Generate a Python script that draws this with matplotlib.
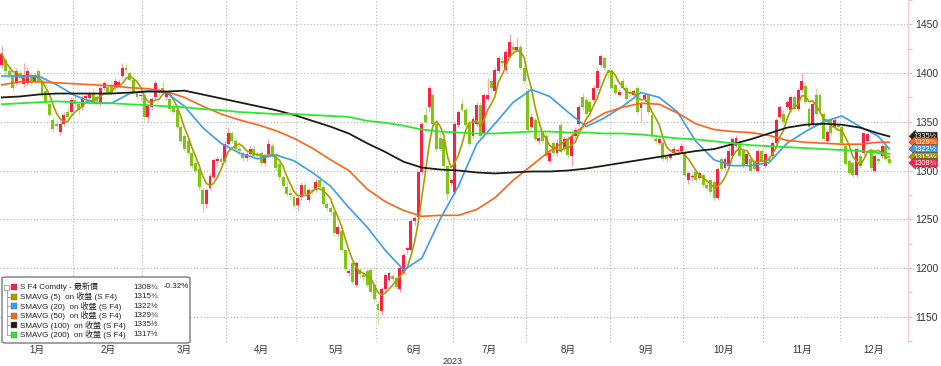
import matplotlib
matplotlib.use("Agg")
import matplotlib.pyplot as plt
import numpy as np
import pandas as pd
from matplotlib.patches import FancyBboxPatch, Rectangle

plt.rcParams['font.family'] = ['Liberation Sans', 'Noto Sans CJK TC', 'DejaVu Sans']

# CBOT trading holidays in 2023 (used to build the trading-day axis)
holidays = ['2023-01-02', '2023-01-16', '2023-02-20', '2023-04-07', '2023-05-29',
            '2023-06-19', '2023-07-04', '2023-09-04', '2023-11-23']

# daily OHLC for S F4 (month per line)
opens = [
    1408, 1413, 1402, 1398, 1390, 1400, 1389, 1390, 1398, 1392, 1402, 1392, 1382, 1368, 1352, 1348, 1340, 1348, 1360, 1360,
    1372, 1368, 1365, 1374, 1374, 1380, 1375, 1370, 1385, 1386, 1388, 1385, 1388, 1397, 1405, 1400, 1393, 1380, 1376,
    1378, 1355, 1365, 1375, 1382, 1385, 1375, 1373, 1365, 1362, 1345, 1335, 1330, 1318, 1308, 1302, 1280, 1266, 1282, 1293, 1310, 1312, 1310,
    1327, 1338, 1330, 1322, 1317, 1313, 1317, 1322, 1317, 1318, 1308, 1317, 1325, 1315, 1307, 1293, 1283, 1277, 1273,
    1265, 1273, 1285, 1270, 1280, 1280, 1290, 1283, 1266, 1262, 1257, 1235, 1238, 1218, 1195, 1205, 1183, 1198, 1193, 1197, 1198, 1182,
    1163, 1156, 1178, 1188, 1192, 1190, 1178, 1195, 1218, 1218, 1248, 1252, 1298, 1357, 1365, 1378, 1348, 1333, 1332, 1305, 1287,
    1278, 1347, 1368, 1362, 1348, 1335, 1348, 1367, 1338, 1373, 1392, 1382, 1402, 1412, 1403, 1417, 1427, 1424, 1427, 1405,
    1382, 1345, 1352, 1330, 1340, 1335, 1310, 1328, 1318, 1347, 1322, 1332, 1315, 1335, 1348, 1375, 1372, 1370, 1372, 1385, 1408, 1415, 1402,
    1402, 1388, 1378, 1392, 1385, 1380, 1378, 1385, 1364, 1372, 1377, 1357, 1332, 1328, 1328, 1314, 1313, 1318, 1320, 1320,
    1318, 1290, 1293, 1298, 1292, 1295, 1285, 1290, 1288, 1272, 1312, 1303, 1305, 1315, 1325, 1327, 1320, 1307, 1312, 1310, 1300, 1320,
    1305, 1312, 1315, 1328, 1355, 1358, 1365, 1362, 1375, 1363, 1383, 1387, 1363, 1347, 1378, 1378, 1358, 1330, 1352, 1345, 1346,
    1345, 1325, 1310, 1308, 1295, 1315, 1318, 1330, 1320, 1300, 1312, 1315, 1325, 1312,
]
highs = [
    1428, 1416, 1406, 1400, 1405, 1403, 1410, 1406, 1400, 1400, 1404, 1394, 1384, 1370, 1355, 1352, 1352, 1360, 1365, 1375,
    1377, 1370, 1377, 1380, 1382, 1385, 1378, 1387, 1392, 1388, 1390, 1395, 1394, 1410, 1410, 1402, 1395, 1382, 1380,
    1380, 1368, 1375, 1393, 1385, 1392, 1382, 1376, 1368, 1364, 1347, 1337, 1333, 1320, 1312, 1304, 1283, 1282, 1297, 1313, 1315, 1316, 1330,
    1345, 1341, 1333, 1326, 1320, 1320, 1325, 1325, 1320, 1320, 1317, 1332, 1328, 1318, 1310, 1295, 1290, 1282, 1276,
    1275, 1288, 1288, 1282, 1284, 1292, 1295, 1285, 1268, 1264, 1259, 1245, 1240, 1220, 1200, 1207, 1207, 1200, 1196, 1199, 1200, 1184,
    1166, 1180, 1195, 1197, 1194, 1192, 1202, 1215, 1222, 1250, 1253, 1300, 1350, 1365, 1387, 1380, 1350, 1338, 1334, 1307, 1292,
    1350, 1362, 1373, 1365, 1350, 1356, 1370, 1370, 1380, 1395, 1395, 1406, 1418, 1416, 1425, 1440, 1432, 1436, 1430, 1408,
    1385, 1358, 1355, 1340, 1343, 1338, 1322, 1330, 1332, 1350, 1335, 1335, 1338, 1345, 1368, 1380, 1375, 1373, 1388, 1405, 1420, 1418, 1405,
    1404, 1390, 1383, 1395, 1388, 1383, 1384, 1387, 1370, 1380, 1379, 1359, 1335, 1335, 1330, 1317, 1319, 1325, 1323, 1328,
    1320, 1299, 1297, 1300, 1299, 1297, 1288, 1292, 1290, 1304, 1314, 1314, 1324, 1334, 1336, 1329, 1322, 1319, 1314, 1312, 1322, 1322,
    1319, 1315, 1330, 1354, 1367, 1362, 1372, 1377, 1377, 1385, 1400, 1390, 1365, 1370, 1385, 1380, 1360, 1342, 1354, 1354, 1348,
    1347, 1327, 1312, 1310, 1324, 1318, 1340, 1339, 1322, 1317, 1314, 1327, 1327, 1314,
]
lows = [
    1405, 1398, 1395, 1383, 1388, 1392, 1386, 1388, 1387, 1390, 1390, 1375, 1368, 1355, 1340, 1342, 1336, 1346, 1352, 1358,
    1365, 1358, 1362, 1370, 1372, 1368, 1368, 1366, 1383, 1377, 1378, 1383, 1386, 1395, 1400, 1392, 1379, 1373, 1372,
    1352, 1350, 1362, 1373, 1377, 1378, 1372, 1360, 1358, 1343, 1328, 1320, 1316, 1303, 1298, 1280, 1257, 1262, 1280, 1290, 1305, 1306, 1308,
    1325, 1328, 1320, 1316, 1310, 1310, 1315, 1312, 1312, 1305, 1305, 1315, 1313, 1300, 1290, 1282, 1274, 1272, 1262,
    1258, 1270, 1274, 1268, 1276, 1278, 1281, 1264, 1258, 1254, 1234, 1232, 1216, 1197, 1192, 1184, 1180, 1190, 1188, 1180, 1172, 1165,
    1142, 1152, 1175, 1186, 1186, 1178, 1175, 1193, 1214, 1216, 1244, 1250, 1296, 1348, 1360, 1345, 1320, 1320, 1303, 1270, 1284,
    1276, 1345, 1360, 1345, 1325, 1333, 1346, 1333, 1336, 1371, 1383, 1380, 1400, 1406, 1400, 1415, 1420, 1422, 1403, 1390,
    1340, 1343, 1330, 1327, 1328, 1313, 1308, 1316, 1315, 1318, 1320, 1313, 1305, 1333, 1346, 1362, 1355, 1357, 1370, 1383, 1406, 1403, 1395,
    1383, 1378, 1376, 1383, 1371, 1376, 1376, 1358, 1350, 1370, 1358, 1333, 1327, 1326, 1310, 1309, 1311, 1316, 1317, 1318,
    1293, 1286, 1289, 1288, 1290, 1283, 1280, 1276, 1270, 1270, 1300, 1301, 1303, 1313, 1323, 1313, 1303, 1305, 1298, 1298, 1298, 1308,
    1303, 1308, 1313, 1326, 1353, 1348, 1363, 1360, 1361, 1361, 1381, 1368, 1343, 1345, 1356, 1358, 1330, 1328, 1336, 1343, 1343,
    1326, 1305, 1295, 1293, 1293, 1303, 1316, 1328, 1301, 1298, 1308, 1313, 1310, 1306,
]
closes = [
    1420, 1402, 1398, 1385, 1402, 1395, 1398, 1402, 1390, 1397, 1392, 1377, 1370, 1357, 1343, 1346, 1348, 1357, 1355, 1372,
    1368, 1362, 1373, 1376, 1379, 1370, 1371, 1385, 1390, 1379, 1380, 1392, 1391, 1405, 1403, 1393, 1380, 1375, 1378,
    1355, 1366, 1373, 1390, 1380, 1380, 1380, 1363, 1360, 1345, 1330, 1322, 1318, 1305, 1300, 1283, 1266, 1280, 1294, 1311, 1312, 1309, 1327,
    1338, 1330, 1322, 1320, 1313, 1317, 1322, 1315, 1315, 1308, 1315, 1327, 1315, 1303, 1293, 1284, 1276, 1275, 1264,
    1272, 1285, 1276, 1280, 1279, 1288, 1283, 1266, 1262, 1257, 1236, 1242, 1218, 1199, 1197, 1186, 1205, 1194, 1191, 1183, 1175, 1168,
    1157, 1178, 1193, 1195, 1189, 1180, 1200, 1213, 1220, 1248, 1251, 1298, 1348, 1350, 1385, 1348, 1322, 1322, 1305, 1276, 1290,
    1348, 1360, 1362, 1347, 1327, 1353, 1367, 1335, 1377, 1378, 1385, 1403, 1415, 1410, 1422, 1432, 1424, 1427, 1405, 1392,
    1342, 1355, 1332, 1333, 1330, 1315, 1318, 1318, 1328, 1320, 1332, 1316, 1335, 1342, 1365, 1365, 1358, 1360, 1385, 1402, 1418, 1405, 1400,
    1385, 1380, 1381, 1385, 1373, 1379, 1382, 1360, 1368, 1377, 1360, 1335, 1330, 1332, 1312, 1312, 1317, 1322, 1320, 1325,
    1295, 1297, 1293, 1290, 1297, 1285, 1282, 1278, 1272, 1302, 1302, 1312, 1320, 1332, 1333, 1315, 1305, 1317, 1300, 1302, 1320, 1310,
    1317, 1310, 1328, 1352, 1365, 1350, 1370, 1375, 1363, 1383, 1392, 1370, 1345, 1368, 1358, 1360, 1332, 1340, 1338, 1352, 1345,
    1328, 1307, 1297, 1295, 1322, 1305, 1338, 1337, 1303, 1315, 1310, 1325, 1312, 1308,
]

# moving averages every 5 trading days (last point = last day)
ma_days = list(range(0, 244, 5)) + [243]
ma20 = [1397, 1397, 1397, 1388, 1377, 1370, 1369, 1379, 1382, 1380, 1366, 1344, 1328, 1318, 1312, 1316, 1310,
        1298, 1284, 1262, 1242, 1218, 1198, 1210, 1250, 1284, 1327, 1348, 1370, 1383, 1376, 1360, 1345,
        1354, 1366, 1380, 1375, 1360, 1330, 1311, 1305, 1305, 1308, 1328, 1340, 1350, 1356, 1345, 1335, 1322]
ma50 = [1388, 1391, 1391, 1390, 1389, 1388, 1387, 1385, 1384, 1381, 1375, 1366, 1358, 1352, 1347, 1341, 1333,
        1323, 1311, 1300, 1281, 1268, 1259, 1253, 1254, 1254, 1260, 1272, 1290, 1305, 1320, 1332, 1348,
        1359, 1365, 1369, 1368, 1359, 1348, 1342, 1340, 1339, 1336, 1331, 1329, 1328, 1327, 1327, 1329, 1329]
ma100 = [1375, 1376, 1378, 1379, 1379, 1379, 1379, 1380, 1381, 1381, 1382, 1378, 1374, 1370, 1366, 1362, 1357,
         1351, 1345, 1338, 1328, 1319, 1309, 1303, 1301, 1300, 1298, 1297, 1298, 1299, 1299, 1300, 1302,
         1305, 1308, 1311, 1314, 1317, 1320, 1322, 1327, 1332, 1338, 1344, 1347, 1348, 1347, 1344, 1338, 1335]
ma200 = [1368, 1369, 1370, 1371, 1370, 1369, 1369, 1368, 1367, 1366, 1365, 1363, 1362, 1360, 1359, 1358, 1358,
         1357, 1356, 1355, 1351, 1349, 1346, 1342, 1340, 1339, 1338, 1338, 1339, 1340, 1340, 1339, 1339,
         1338, 1338, 1337, 1335, 1333, 1332, 1330, 1328, 1326, 1325, 1324, 1323, 1322, 1321, 1320, 1318, 1317]

legend_labels = ['S F4 Comdty - 最新價', 'SMAVG (5)  on 收盤 (S F4)', 'SMAVG (20)  on 收盤 (S F4)',
                 'SMAVG (50)  on 收盤 (S F4)', 'SMAVG (100)  on 收盤 (S F4)', 'SMAVG (200)  on 收盤 (S F4)']
legend_values = ['1308¾', '1315¾', '1322½', '1329¾', '1335½', '1317½']
last_change = '-0.32%'

UP, DOWN = '#fa2046', '#80c414'
UP_W, DOWN_W = '#f7a3b0', '#c4e391'
C_MA5, C_MA20, C_MA50, C_MA100, C_MA200 = '#a89e00', '#3b9cf5', '#ff6415', '#1c1c12', '#2bea2b'
line_colors = [UP, C_MA5, C_MA20, C_MA50, C_MA100, C_MA200]

o = np.array(opens, float); h = np.array(highs, float)
l = np.array(lows, float); c = np.array(closes, float)
n = len(c)
idx = np.arange(n)
dates = pd.bdate_range('2023-01-03', periods=n, freq='C', holidays=holidays)
ma5 = pd.Series(c).rolling(5, min_periods=1).mean()

fig = plt.figure(figsize=(9.41, 3.66), dpi=100)
ax = fig.add_axes([0, 1 - 342 / 366, 908 / 941, 342 / 366])
x_max = 248.1
ax.set_xlim(-0.5, x_max)
ax.set_ylim(1124, 1464)

# grid
grid_kw = dict(color='#b4b4b4', lw=0.8, linestyle=(0, (1, 2)), zorder=0)
for yv in range(1150, 1451, 50):
    ax.axhline(yv, **grid_kw)
months = dates.month.values
starts = [int(np.argmax(months == m)) for m in range(1, 13)]
for s in starts[1:]:
    ax.axvline(s - 0.5, **grid_kw)

# candles
up = c >= o
ax.vlines(idx, l, h, colors=np.where(up, UP_W, DOWN_W), lw=0.9, zorder=2)
body = np.maximum(np.abs(c - o), 1.5)
ax.bar(idx, body, bottom=np.minimum(o, c), width=0.8, color=np.where(up, UP, DOWN), zorder=3)

# moving averages
ax.plot(idx, ma5, color=C_MA5, lw=1.2, zorder=4)
ax.plot(ma_days, ma20, color=C_MA20, lw=1.2, zorder=4)
ax.plot(ma_days, ma50, color=C_MA50, lw=1.2, zorder=4)
ax.plot(ma_days, ma100, color=C_MA100, lw=1.3, zorder=4)
ax.plot(ma_days, ma200, color=C_MA200, lw=1.3, zorder=4)

# axes styling
for side in ['top', 'left', 'bottom']:
    ax.spines[side].set_visible(False)
ax.spines['right'].set_color('#f6c8c8')
ax.yaxis.tick_right()
ax.set_yticks(range(1150, 1451, 50))
ax.set_yticks(range(1125, 1476, 25), minor=True)
ax.tick_params(axis='y', which='both', direction='out', length=3, color='#f0b8b8',
               labelsize=7.5, labelcolor='#333333', pad=2)
ax.set_xticks([])

# month labels
bounds = [s - 0.5 for s in starts] + [x_max]
for m in range(12):
    ax.text((bounds[m] + bounds[m + 1]) / 2, -0.024, f'{m + 1}月', transform=ax.get_xaxis_transform(),
            ha='center', va='center', fontsize=7, color='#333333')
ax.text(starts[6] - 0.5, -0.056, '2023', transform=ax.get_xaxis_transform(),
        ha='center', va='center', fontsize=6.5, color='#333333')

# last value tags on the right axis (they overlap each other in the original too)
tag_vals = [ma100[-1], ma50[-1], ma20[-1], round(ma5.iloc[-1]), closes[-1]]
tag_cols = [C_MA100, C_MA50, C_MA20, C_MA5, UP]
tag_txt = [legend_values[4], legend_values[3], legend_values[2], legend_values[1], legend_values[0]]
for v, col, t in zip(tag_vals, tag_cols, tag_txt):
    ax.annotate(t, xy=(1, v), xycoords=ax.get_yaxis_transform(), xytext=(4, 0),
                textcoords='offset points', fontsize=5.4, color='white', va='center', ha='left',
                bbox=dict(boxstyle='larrow,pad=0.1', fc=col, ec='#444444', lw=0.4),
                annotation_clip=False, zorder=6)

# legend box (figure pixel coordinates)
W, H = 941, 366
def fx(px):
    return px / W
def fy(py):
    return 1 - py / H

box = FancyBboxPatch((fx(2), fy(343)), fx(188), 66 / H, boxstyle='round,pad=0,rounding_size=0.004',
                     transform=fig.transFigure, fc='white', ec='#7a7a7a', lw=1.0, zorder=10)
fig.patches.append(box)
row_y = [287, 296.5, 306, 315.5, 325, 334.5]
fig.add_artist(plt.Line2D([fx(7), fx(7)], [fy(290), fy(334.5)], transform=fig.transFigure,
                          color='#9a9a9a', lw=0.6, zorder=11))
for ry in row_y[1:]:
    fig.add_artist(plt.Line2D([fx(7), fx(10)], [fy(ry), fy(ry)], transform=fig.transFigure,
                              color='#9a9a9a', lw=0.6, zorder=11))
fig.add_artist(Rectangle((fx(4), fy(290)), fx(5), 5 / H, transform=fig.transFigure,
                         fc='white', ec='#8a8a8a', lw=0.5, zorder=12))
for ry, lab, val, col in zip(row_y, legend_labels, legend_values, line_colors):
    fig.add_artist(Rectangle((fx(11), fy(ry + 3)), fx(6), 6 / H, transform=fig.transFigure,
                             fc=col, ec='#666666', lw=0.3, zorder=12))
    fig.text(fx(20), fy(ry), lab, fontsize=5.8, color='#222222', va='center', ha='left', zorder=12)
    fig.text(fx(133), fy(ry), val, fontsize=5.8, color='#222222', va='center', ha='left', zorder=12)
fig.text(fx(164), fy(row_y[0]), last_change, fontsize=5.8, color='#222222', va='center', ha='left', zorder=12)

fig.savefig('out.png', dpi=100)
